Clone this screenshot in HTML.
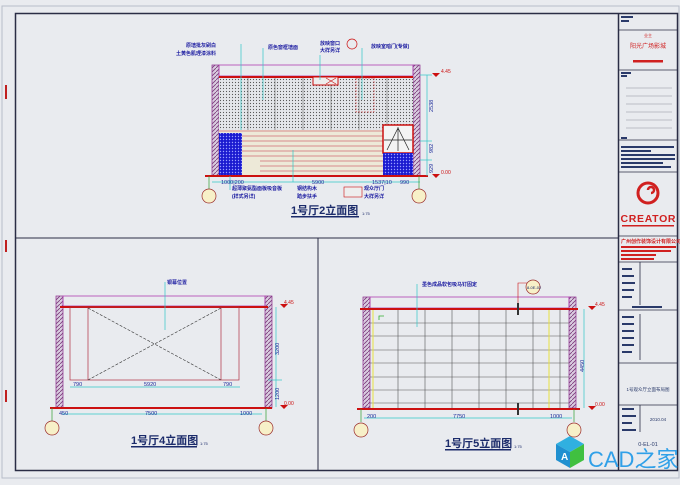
<!DOCTYPE html>
<html><head><meta charset="utf-8"><style>
html,body{margin:0;padding:0;background:#e9ebef;}
svg{display:block;font-family:"Liberation Sans","Noto Sans CJK SC",sans-serif;}
</style></head><body>
<svg width="680" height="485" viewBox="0 0 680 485" xmlns="http://www.w3.org/2000/svg">
<defs>
<pattern id="h" width="4" height="4" patternUnits="userSpaceOnUse"><rect width="4" height="4" fill="#d9cde0"/><path d="M0 4L4 0" stroke="#7a3a7a" stroke-width="0.8"/></pattern>
<pattern id="d" width="3" height="3" patternUnits="userSpaceOnUse"><rect width="3" height="3" fill="#e4e6ea"/><circle cx="1.5" cy="1.5" r="0.6" fill="#555"/></pattern>
<pattern id="b" width="3" height="3" patternUnits="userSpaceOnUse"><rect width="3" height="3" fill="#1a1ad0"/><circle cx="1.5" cy="1.5" r="0.7" fill="#9aa0ff"/></pattern>
</defs>
<rect x="0" y="0" width="680" height="485" fill="#e9ebef"/>
<rect x="2" y="6" width="677" height="472" fill="none" stroke="#b8bcc8" stroke-width="1"/>
<rect x="15.5" y="13.5" width="662" height="457" fill="none" stroke="#2a2d45" stroke-width="1.5"/>
<path d="M6 85v14M6 240v12M6 390v12" stroke="#c02020" stroke-width="2"/>
<line x1="16" y1="238" x2="618" y2="238" stroke="#2a2d45"/>
<line x1="318" y1="238" x2="318" y2="470" stroke="#2a2d45"/>
<line x1="618.5" y1="14" x2="618.5" y2="470" stroke="#2a2d45" stroke-width="1.5"/>
<!-- title block -->
<g stroke="#2a2d45" stroke-width="0.8" fill="none">
<line x1="619" y1="30" x2="677" y2="30"/><line x1="619" y1="70" x2="677" y2="70"/><line x1="619" y1="140" x2="677" y2="140"/>
<line x1="619" y1="172" x2="677" y2="172"/><line x1="619" y1="236" x2="677" y2="236"/><line x1="619" y1="262" x2="677" y2="262"/>
<line x1="619" y1="310" x2="677" y2="310"/><line x1="619" y1="363" x2="677" y2="363"/><line x1="619" y1="405" x2="677" y2="405"/>
<line x1="640" y1="262" x2="640" y2="305"/><line x1="640" y1="314" x2="640" y2="360"/><line x1="640" y1="405" x2="640" y2="432"/>
</g>
<g fill="#2a3a6a">
<rect x="621" y="16" width="12" height="2"/><rect x="621" y="20" width="8" height="2"/>
<rect x="621" y="72" width="10" height="2"/><rect x="621" y="75" width="6" height="2"/>
<rect x="621" y="137" width="6" height="2"/>
<rect x="621" y="146" width="53" height="2"/><rect x="621" y="150" width="30" height="2"/><rect x="621" y="154" width="54" height="2"/><rect x="621" y="158" width="54" height="2"/><rect x="621" y="162" width="42" height="2"/><rect x="621" y="166" width="50" height="2"/>
<rect x="622" y="268" width="10" height="2"/><rect x="622" y="275" width="12" height="2"/><rect x="622" y="282" width="13" height="2"/><rect x="622" y="289" width="12" height="2"/><rect x="622" y="296" width="10" height="2"/>
<rect x="632" y="306" width="30" height="2"/>
<rect x="622" y="316" width="12" height="2"/><rect x="622" y="323" width="12" height="2"/><rect x="622" y="330" width="12" height="2"/><rect x="622" y="337" width="12" height="2"/><rect x="622" y="344" width="12" height="2"/><rect x="622" y="351" width="10" height="2"/>
<rect x="622" y="408" width="12" height="2"/><rect x="622" y="415" width="14" height="2"/><rect x="622" y="422" width="10" height="2"/><rect x="622" y="429" width="14" height="2"/>
</g>
<g stroke="#8b8f9a" stroke-width="0.6"><line x1="626" y1="88" x2="672" y2="88"/><line x1="626" y1="96" x2="672" y2="96"/><line x1="626" y1="104" x2="672" y2="104"/><line x1="626" y1="112" x2="672" y2="112"/><line x1="626" y1="120" x2="672" y2="120"/><line x1="626" y1="128" x2="672" y2="128"/></g>
<text x="648" y="37" font-size="4" fill="#d02020" text-anchor="middle">业主</text>
<text x="648" y="48" font-size="6" fill="#d02020" text-anchor="middle">阳光广场影城</text>
<rect x="633" y="60" width="30" height="2.5" fill="#d02020"/>
<circle cx="648" cy="193" r="10" fill="none" stroke="#d02020" stroke-width="3"/>
<path d="M648 190a3 3 0 1 1 3 3" fill="none" stroke="#d02020" stroke-width="2.5"/>
<text x="648" y="222" font-size="10.5" font-weight="bold" fill="#d02020" text-anchor="middle" textLength="55">CREATOR</text>
<rect x="622" y="225" width="52" height="1.5" fill="#d02020"/>
<text x="621" y="243" font-size="5" font-weight="bold" fill="#d02020">广州创作装饰设计有限公司</text>
<rect x="621" y="246" width="55" height="2" fill="#d02020"/><rect x="621" y="250" width="50" height="2" fill="#d02020"/><rect x="621" y="254" width="35" height="2" fill="#d02020"/><rect x="621" y="258" width="33" height="2" fill="#d02020"/>
<text x="648" y="391" font-size="4.5" fill="#2a3a6a" text-anchor="middle">1号观众厅立面布局图</text>
<text x="658" y="421" font-size="4.5" fill="#2a3a6a" text-anchor="middle">2010.04</text>
<text x="648" y="446" font-size="5.5" fill="#2a3a6a" text-anchor="middle">0-EL-01</text>

<!-- TOP ELEVATION -->
<rect x="212" y="65" width="7" height="111" fill="url(#h)" stroke="#8b2a8b" stroke-width="0.7"/>
<rect x="413" y="65" width="7" height="111" fill="url(#h)" stroke="#8b2a8b" stroke-width="0.7"/>
<rect x="219" y="65" width="194" height="11" fill="none" stroke="#b040b0" stroke-width="0.8"/>
<rect x="219" y="78" width="194" height="52" fill="url(#d)"/>
<line x1="219" y1="77" x2="413" y2="77" stroke="#cc1010" stroke-width="2"/>
<g stroke="#555" stroke-width="0.5"><line x1="248" y1="78" x2="248" y2="130"/><line x1="275" y1="78" x2="275" y2="130"/><line x1="303" y1="78" x2="303" y2="130"/><line x1="331" y1="78" x2="331" y2="130"/><line x1="359" y1="78" x2="359" y2="130"/><line x1="387" y1="78" x2="387" y2="130"/></g>
<rect x="313" y="77" width="25" height="8" fill="#eee" stroke="#cc1010" stroke-width="1"/>
<path d="M326 78l10 6M336 78l-10 6" stroke="#cc1010" stroke-width="0.6"/>
<rect x="356" y="78" width="18" height="34" fill="none" stroke="#cc1010" stroke-width="0.5" stroke-dasharray="2 1"/>
<rect x="219" y="130" width="164" height="46" fill="#ede9d8"/>
<g stroke="#c03040" stroke-width="0.6"><line x1="219" y1="131" x2="383" y2="131"/><line x1="242" y1="136" x2="390" y2="136"/><line x1="242" y1="141" x2="390" y2="141"/><line x1="242" y1="146" x2="390" y2="146"/><line x1="242" y1="151" x2="390" y2="151"/><line x1="242" y1="156" x2="390" y2="156"/><line x1="260" y1="161" x2="410" y2="161"/><line x1="260" y1="166" x2="410" y2="166"/><line x1="260" y1="171" x2="410" y2="171"/></g>
<rect x="219" y="133" width="23" height="43" fill="url(#b)"/>
<rect x="383" y="125" width="30" height="28" fill="#f4f4f4" stroke="#cc1010" stroke-width="1.5"/>
<path d="M398 127v24M387 150l11-22 11 22M384 140h28" stroke="#222" stroke-width="0.7" fill="none"/>
<rect x="383" y="153" width="30" height="23" fill="url(#b)"/>
<line x1="205" y1="176" x2="428" y2="176" stroke="#cc1010" stroke-width="2"/>
<g stroke="#30c8c8" stroke-width="0.7" fill="none">
<line x1="427" y1="75" x2="427" y2="176"/><line x1="420" y1="75" x2="432" y2="75"/><line x1="420" y1="141" x2="432" y2="141"/><line x1="420" y1="160" x2="432" y2="160"/>
<line x1="212" y1="182" x2="420" y2="182"/>
<line x1="241" y1="44" x2="241" y2="130"/><line x1="263" y1="48" x2="263" y2="100"/><line x1="293" y1="150" x2="293" y2="182"/><line x1="320" y1="55" x2="320" y2="80"/><line x1="362" y1="48" x2="362" y2="100"/><line x1="230" y1="176" x2="230" y2="190"/>
</g>
<path d="M432 73l4 4 4-4zM432 174l4 4 4-4z" fill="#cc1010"/>
<text x="441" y="73" font-size="5" fill="#cc1010">4.45</text><text x="441" y="174" font-size="5" fill="#cc1010">0.00</text>
<g font-size="5.5" fill="#1a2a9a">
<text x="433" y="112" transform="rotate(-90 433 112)">2538</text>
<text x="433" y="153" transform="rotate(-90 433 153)">982</text>
<text x="433" y="173" transform="rotate(-90 433 173)">929</text>
<text x="221" y="184">1000|200</text><text x="312" y="184">5900</text><text x="372" y="184">1537|10</text><text x="400" y="184">990</text>
</g>
<g font-size="5" font-weight="bold" fill="#1a1aa0">
<text x="186" y="47">原墙批灰刷白</text><text x="176" y="55">土黄色肌理漆涂料</text>
<text x="268" y="49">原色窗框墙面</text>
<text x="320" y="45">放映窗口</text><text x="320" y="52">大样另详</text>
<text x="371" y="48">放映室暗门(专做)</text>
<text x="232" y="190">超薄聚氨酯面板吸音板</text><text x="232" y="198">(样式另详)</text>
<text x="297" y="190">钢结构木</text><text x="297" y="198">踏步扶手</text>
<text x="364" y="190">观众厅门</text><text x="364" y="198">大样另详</text>
</g>
<circle cx="352" cy="44" r="5" fill="none" stroke="#cc1010" stroke-width="0.7"/>
<rect x="344" y="187" width="18" height="10" fill="#eee" stroke="#cc1010" stroke-width="0.6"/>
<g stroke="#30a030" stroke-width="0.7"><line x1="209" y1="176" x2="209" y2="189"/><line x1="419" y1="176" x2="419" y2="189"/></g>
<circle cx="209" cy="196" r="7" fill="#f7f0c8" stroke="#9a2a2a" stroke-width="0.7"/>
<circle cx="419" cy="196" r="7" fill="#f7f0c8" stroke="#9a2a2a" stroke-width="0.7"/>
<text x="291" y="214" font-size="11" font-weight="bold" fill="#1a2a6a">1号厅2立面图</text>
<rect x="291" y="216" width="68" height="1.5" fill="#1a2a6a"/>
<text x="362" y="215" font-size="4" fill="#1a2a6a">1:75</text>

<!-- BOTTOM LEFT -->
<rect x="56" y="296" width="7" height="112" fill="url(#h)" stroke="#8b2a8b" stroke-width="0.7"/>
<rect x="265" y="296" width="7" height="112" fill="url(#h)" stroke="#8b2a8b" stroke-width="0.7"/>
<rect x="63" y="296" width="202" height="10" fill="none" stroke="#b040b0" stroke-width="0.8"/>
<line x1="60" y1="307" x2="268" y2="307" stroke="#cc1010" stroke-width="2"/>
<rect x="70" y="307" width="169" height="73" fill="none" stroke="#b03040" stroke-width="0.7"/>
<path d="M88 307v73M221 307v73" stroke="#b03040" stroke-width="0.7"/>
<path d="M88 308L221 380M221 308L88 380" stroke="#333" stroke-width="0.6" stroke-dasharray="3 1.5"/>
<line x1="50" y1="408" x2="272" y2="408" stroke="#cc1010" stroke-width="2"/>
<g stroke="#30c8c8" stroke-width="0.7"><line x1="70" y1="387" x2="240" y2="387"/><line x1="62" y1="414" x2="262" y2="414"/><line x1="276" y1="307" x2="276" y2="407"/><line x1="268" y1="380" x2="282" y2="380"/><line x1="165" y1="282" x2="165" y2="330"/></g>
<path d="M280 304l4 4 4-4zM280 405l4 4 4-4z" fill="#cc1010"/>
<text x="284" y="304" font-size="5" fill="#cc1010">4.45</text><text x="284" y="405" font-size="5" fill="#cc1010">0.00</text>
<g font-size="5.5" fill="#1a2a9a">
<text x="73" y="386">790</text><text x="144" y="386">5920</text><text x="223" y="386">790</text>
<text x="59" y="415">450</text><text x="145" y="415">7500</text><text x="240" y="415">1000</text>
<text x="279" y="355" transform="rotate(-90 279 355)">3200</text><text x="279" y="400" transform="rotate(-90 279 400)">1200</text>
</g>
<text x="167" y="284" font-size="5" font-weight="bold" fill="#1a1aa0">银幕位置</text>
<g stroke="#30a030" stroke-width="0.7"><line x1="52" y1="408" x2="52" y2="421"/><line x1="266" y1="408" x2="266" y2="421"/></g>
<circle cx="52" cy="428" r="7" fill="#f7f0c8" stroke="#9a2a2a" stroke-width="0.7"/>
<circle cx="266" cy="428" r="7" fill="#f7f0c8" stroke="#9a2a2a" stroke-width="0.7"/>
<text x="131" y="444" font-size="11" font-weight="bold" fill="#1a2a6a">1号厅4立面图</text>
<rect x="131" y="446" width="66" height="1.5" fill="#1a2a6a"/>
<text x="200" y="445" font-size="4" fill="#1a2a6a">1:75</text>

<!-- BOTTOM RIGHT -->
<rect x="363" y="297" width="7" height="111" fill="url(#h)" stroke="#8b2a8b" stroke-width="0.7"/>
<rect x="569" y="297" width="7" height="111" fill="url(#h)" stroke="#8b2a8b" stroke-width="0.7"/>
<rect x="370" y="297" width="199" height="11" fill="none" stroke="#b040b0" stroke-width="0.8"/>
<g stroke="#555" stroke-width="0.6">
<line x1="398" y1="309" x2="398" y2="408"/><line x1="425" y1="309" x2="425" y2="408"/><line x1="452" y1="309" x2="452" y2="408"/><line x1="479" y1="309" x2="479" y2="408"/><line x1="506" y1="309" x2="506" y2="408"/><line x1="533" y1="309" x2="533" y2="408"/><line x1="560" y1="309" x2="560" y2="408"/>
<line x1="370" y1="323" x2="569" y2="323"/><line x1="370" y1="336" x2="569" y2="336"/><line x1="370" y1="350" x2="569" y2="350"/><line x1="370" y1="363" x2="569" y2="363"/><line x1="370" y1="377" x2="569" y2="377"/><line x1="370" y1="390" x2="569" y2="390"/><line x1="370" y1="403" x2="569" y2="403"/>
</g>
<path d="M373 310v98M549 310v98" stroke="#e8e040" stroke-width="1"/>
<path d="M379 320v-4h5" stroke="#30b030" stroke-width="0.8" fill="none"/>
<line x1="360" y1="309" x2="578" y2="309" stroke="#cc1010" stroke-width="2"/>
<line x1="357" y1="409" x2="580" y2="409" stroke="#cc1010" stroke-width="2"/>
<path d="M518 303v12M518 403v12" stroke="#333" stroke-width="2"/>
<path d="M518 303v-20h12" stroke="#cc1010" stroke-width="0.6" fill="none"/>
<circle cx="533" cy="287" r="7" fill="#f7f0c8" stroke="#9a2a2a" stroke-width="0.7"/>
<text x="527" y="289" font-size="4" fill="#1a2a6a">8-0E-02</text>
<g stroke="#30c8c8" stroke-width="0.7"><line x1="364" y1="418" x2="572" y2="418"/><line x1="584" y1="309" x2="584" y2="408"/><line x1="417" y1="284" x2="417" y2="327"/></g>
<path d="M588 306l4 4 4-4zM588 406l4 4 4-4z" fill="#cc1010"/>
<text x="595" y="306" font-size="5" fill="#cc1010">4.45</text><text x="595" y="406" font-size="5" fill="#cc1010">0.00</text>
<g font-size="5.5" fill="#1a2a9a">
<text x="367" y="418">200</text><text x="453" y="418">7750</text><text x="550" y="418">1000</text>
<text x="584" y="372" transform="rotate(-90 584 372)">4450</text>
</g>
<text x="422" y="286" font-size="5" font-weight="bold" fill="#1a1aa0">墨色成品软包吸马钉固定</text>
<g stroke="#30a030" stroke-width="0.7"><line x1="361" y1="409" x2="361" y2="422"/><line x1="574" y1="409" x2="574" y2="422"/></g>
<circle cx="361" cy="430" r="7" fill="#f7f0c8" stroke="#9a2a2a" stroke-width="0.7"/>
<circle cx="574" cy="430" r="7" fill="#f7f0c8" stroke="#9a2a2a" stroke-width="0.7"/>
<text x="445" y="447" font-size="11" font-weight="bold" fill="#1a2a6a">1号厅5立面图</text>
<rect x="445" y="449" width="66" height="1.5" fill="#1a2a6a"/>
<text x="514" y="448" font-size="4" fill="#1a2a6a">1:75</text>

<!-- watermark -->
<g transform="translate(556,432)">
<path d="M0 12l14-8 14 8-14 8z" fill="#30b0e0"/><path d="M0 12v16l14 8v-16z" fill="#2090d0"/><path d="M28 12v16l-14 8v-16z" fill="#40c040"/>
<text x="5" y="28" font-size="10" font-weight="bold" fill="#fff">A</text>
</g>
<text x="588" y="467" font-size="22" fill="#30a0e8">CAD之家</text>
</svg>
</body></html>
